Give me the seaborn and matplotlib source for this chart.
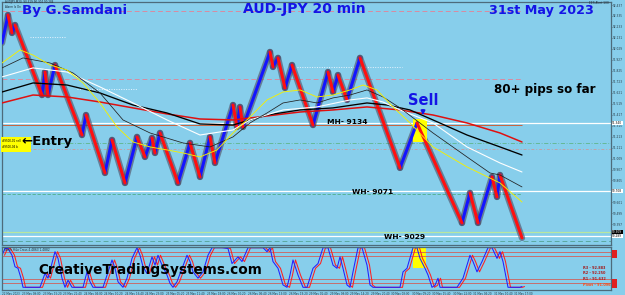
import numpy as np
import pandas as pd
import matplotlib
matplotlib.use("Agg")
import matplotlib.pyplot as plt
import matplotlib.transforms as mtransforms
from matplotlib.patches import Rectangle
import seaborn as sns

# ---------------- data ----------------
# Renko zig-zag pivots (bar position, price)
pivot_bar = [2, 8, 12, 15, 42, 45, 48, 55, 82, 86, 105, 112, 125, 137, 145, 152, 155, 160,
             178, 190, 200, 210, 215, 233, 237, 240, 243, 270, 273, 278, 285, 292, 313, 328,
             333, 338, 347, 360, 400, 417, 462, 470, 478, 492, 497, 500, 522]
pivot_price = [92.084, 92.344, 92.177, 92.251, 91.600, 91.814, 91.600, 91.879, 91.228, 91.414,
               90.875, 91.182, 90.782, 91.210, 91.024, 91.201, 91.061, 91.247, 90.782, 91.154,
               90.838, 91.210, 90.968, 91.507, 91.303, 91.489, 91.303, 92.000, 91.861, 91.945,
               91.666, 91.879, 91.321, 91.814, 91.628, 91.786, 91.554, 91.945, 90.922, 91.340,
               90.410, 90.689, 90.410, 90.838, 90.652, 90.856, 90.271]

# moving averages
ma_yellow_bar = [2, 20, 33, 50, 67, 83, 100, 117, 133, 150, 167, 183, 200, 217, 233, 250, 267, 283,
                 300, 317, 333, 350, 363, 377, 393, 410, 433, 467, 500, 522]
ma_yellow = [91.898, 92.019, 91.972, 91.879, 91.833, 91.712, 91.526, 91.303, 91.163, 91.117,
             91.089, 91.061, 91.024, 91.089, 91.247, 91.396, 91.554, 91.628, 91.647, 91.582,
             91.600, 91.647, 91.693, 91.647, 91.489, 91.340, 91.117, 90.931, 90.782, 90.605]
ma_thin_bar = [2, 23, 50, 73, 100, 123, 150, 183, 210, 233, 250, 267, 283, 300, 317, 333, 350, 367,
               383, 400, 433, 467, 490, 500, 522]
ma_thin = [91.852, 91.945, 91.898, 91.805, 91.619, 91.368, 91.247, 91.154, 91.117, 91.210, 91.340,
           91.433, 91.526, 91.554, 91.526, 91.573, 91.600, 91.647, 91.582, 91.480, 91.247, 91.024,
           90.875, 90.856, 90.745]
ma_white_bar = [2, 33, 67, 100, 133, 167, 200, 233, 250, 283, 317, 350, 367, 383, 400, 433, 467, 500, 522]
ma_white = [91.768, 91.852, 91.814, 91.675, 91.526, 91.368, 91.228, 91.275, 91.368, 91.461, 91.489,
            91.554, 91.573, 91.535, 91.461, 91.340, 91.117, 90.968, 90.884]
ma_black_bar = [2, 33, 67, 100, 133, 167, 200, 233, 267, 300, 333, 367, 387, 410, 433, 467, 500, 522]
ma_black = [91.628, 91.712, 91.693, 91.619, 91.507, 91.433, 91.331, 91.321, 91.414, 91.461, 91.480,
            91.526, 91.507, 91.461, 91.368, 91.228, 91.117, 91.042]
ma_red_bar = [2, 33, 67, 100, 133, 167, 200, 233, 267, 300, 333, 367, 400, 433, 467, 500, 522]
ma_red = [91.526, 91.600, 91.582, 91.535, 91.480, 91.424, 91.377, 91.368, 91.405, 91.442, 91.461,
          91.489, 91.461, 91.414, 91.340, 91.247, 91.163]

# horizontal levels
level_price = [92.382, 91.749, 91.340, 91.321, 91.154, 91.098, 90.708, 90.680, 90.326, 90.289, 90.243]
level_end = [522, 522, 611, 522, 611, 611, 611, 522, 611, 611, 611]
dotted_price = [92.140, 91.656, 91.861]
dotted_from = [30, 77, 297]
dotted_to = [65, 137, 402]

# stochastic oscillator
stoch_bar = [2, 5, 8, 12, 15, 18, 21, 23, 40, 45, 48, 55, 58, 62, 65, 68, 72, 83, 87, 90,
             93, 103, 112, 115, 118, 123, 127, 132, 137, 140, 143, 147, 152, 155, 158, 162, 167, 170, 173, 177,
             187, 190, 193, 198, 203, 208, 212, 222, 228, 232, 238, 242, 248, 263, 267, 270, 273, 278, 283, 287,
             290, 293, 298, 303, 307, 313, 318, 323, 328, 333, 337, 340, 343, 347, 350, 353, 358, 362, 367, 370,
             373, 400, 403, 407, 413, 417, 420, 425, 428, 432, 435, 438, 440, 457, 463, 470, 473, 477, 482, 488,
             492, 497, 500, 503, 508, 520, 522]
stoch_k = [81, 98, 98, 81, 52, 48, 23, 0, 0, 35, 23, 90, 73, 23, 0, 18, 0, 0, 39, 14,
           0, 0, 69, 48, 14, 0, 23, 73, 100, 81, 52, 35, 77, 56, 81, 56, 31, 10, 0, 14,
           81, 65, 39, 23, 39, 81, 100, 100, 98, 60, 77, 65, 100, 100, 90, 100, 65, 48, 6, 0,
           31, 69, 31, 0, 0, 48, 60, 100, 100, 56, 48, 77, 48, 6, 0, 39, 100, 100, 56, 6,
           0, 0, 39, 48, 100, 100, 73, 48, 31, 0, 5, 23, 0, 0, 23, 81, 65, 39, 65, 100,
           100, 73, 90, 65, 0, 0, 2]
stoch_levels = [90, 80, 20, 10]

price_ticks = [92.437, 92.335, 92.233, 92.131, 92.029, 91.927, 91.825, 91.723, 91.621, 91.519,
               91.417, 91.315, 91.213, 91.111, 91.009, 90.907, 90.805, 90.703, 90.601, 90.499,
               90.397, 90.295]
date_pos = [2, 22, 43, 63, 84, 104, 125, 145, 166, 186, 207, 227, 248, 268, 289, 309, 330, 350,
            371, 391, 412, 432, 453, 473, 494, 514]
date_lab = ["22 May 2023", "23 May 09:00", "23 May 15:20", "23 May 21:40", "24 May 04:00",
            "24 May 10:20", "24 May 16:40", "24 May 23:00", "25 May 05:20", "25 May 11:40",
            "25 May 18:00", "26 May 00:20", "26 May 06:40", "26 May 13:00", "26 May 19:20",
            "29 May 01:40", "29 May 08:00", "29 May 14:20", "29 May 20:40", "30 May 03:00",
            "30 May 09:20", "30 May 15:40", "30 May 22:00", "31 May 04:20", "31 May 10:40",
            "31 May 17:00"]
pivot_names = ["R3 - 92.883", "R2 - 92.250", "R1 - 91.632", "Pivot - 91.096"]

# ---------------- figure ----------------
bg = "#87CEEB"
sns.set_style("white")
plt.rcParams["font.family"] = ["DejaVu Sans"]

W, H = 625, 295
fig = plt.figure(figsize=(6.25, 2.95), dpi=100, facecolor=bg)


def fx(px):
    return px / W


def fy(py):
    return 1 - py / H


ax = fig.add_axes([fx(2), fy(245), fx(611) - fx(2), fy(2) - fy(245)])
ax2 = fig.add_axes([fx(2), fy(290), fx(611) - fx(2), fy(247) - fy(290)], sharex=ax)
for a in (ax, ax2):
    a.set_facecolor(bg)
    for s in a.spines.values():
        s.set_color("#4d6b7b")
        s.set_linewidth(0.9)
ax.set_xlim(2, 611)
ax.set_ylim(90.205, 92.465)
ax2.set_ylim(-6.8, 101.8)

# horizontal levels
lv_colors = ["#d98aa0", "#d98aa0", "white", "#c8623c", "#5fb58a", "#c0a0a8", "white", "#4fb08a",
             "#b9e6a0", "white", "#5aa8a0"]
lv_styles = [(0, (5, 3)), (0, (5, 3)), "-", "-", (0, (5, 2, 1, 2)), (0, (3, 2, 1, 2)), "-", (0, (4, 2)),
             "-", "-", (0, (5, 3))]
lv_widths = [0.7, 0.7, 0.9, 0.7, 0.6, 0.7, 0.9, 0.6, 0.9, 0.9, 0.7]
for p, e, c, ls, lw in zip(level_price, level_end, lv_colors, lv_styles, lv_widths):
    ax.hlines(p, 2, e, colors=c, linestyles=ls, linewidth=lw, zorder=1)
for p, a0, a1 in zip(dotted_price, dotted_from, dotted_to):
    ax.hlines(p, a0, a1, colors="#e8f4ff", linestyles=(0, (1, 1.5)), linewidth=0.7, zorder=1)

# Renko path
rows = []
for i in range(len(pivot_bar) - 1):
    d = "up" if pivot_price[i + 1] > pivot_price[i] else "down"
    rows.append(dict(seg=i, bar=pivot_bar[i], price=pivot_price[i], dir=d))
    rows.append(dict(seg=i, bar=pivot_bar[i + 1], price=pivot_price[i + 1], dir=d))
renko = pd.DataFrame(rows)
sns.lineplot(data=renko, x="bar", y="price", units="seg", estimator=None, sort=False,
             color="#4a3e55", lw=4.6, alpha=0.55, ax=ax, legend=False, zorder=2)
sns.lineplot(data=renko, x="bar", y="price", units="seg", hue="dir", estimator=None, sort=False,
             palette={"up": "#1414ff", "down": "#ff1010"}, lw=2.2, ax=ax, legend=False, zorder=3)

# yellow box at sell
ax.add_patch(Rectangle((413, 91.163), 14, 0.214, facecolor="#ffff00", edgecolor="none", zorder=2.5))

# moving averages
for xs, ys, c, lw in [(ma_red_bar, ma_red, "#e01010", 1.1),
                      (ma_black_bar, ma_black, "black", 0.95),
                      (ma_white_bar, ma_white, "white", 0.8),
                      (ma_thin_bar, ma_thin, "#202020", 0.55),
                      (ma_yellow_bar, ma_yellow, "#f5f000", 0.65)]:
    sns.lineplot(x=xs, y=ys, color=c, lw=lw, ax=ax, legend=False, estimator=None, sort=False, zorder=4)

# axes ticks
ax.yaxis.tick_right()
ax.set_yticks(price_ticks)
ax.set_yticklabels([f"{t:.3f}" for t in price_ticks])
ax.tick_params(axis="y", labelsize=2.1, length=1.0, width=0.4, pad=0.4, colors="#2a3a44")
ax.tick_params(axis="x", length=0, labelbottom=False)
ax.set_xlabel("")
ax.set_ylabel("")

yt = ax.get_yaxis_transform()
for p, txt, fc, tc in [(91.340, "91.340", "white", "black"), (90.708, "90.708", "white", "black"),
                       (90.326, "90.309", "black", "white"), (90.289, "90.289", "white", "black")]:
    ax.text(1.002, p, txt, transform=yt, fontsize=2.1, color=tc, va="center", ha="left",
            bbox=dict(fc=fc, ec="none", pad=0.3), clip_on=False)

# stochastic
for lv in stoch_levels:
    ax2.axhline(lv, color="#d0605a", lw=0.6, zorder=1)
sk = pd.DataFrame({"bar": stoch_bar, "k": stoch_k})
sns.lineplot(data=sk, x="bar", y="k", color="#ff2020", lw=0.75, ax=ax2, legend=False, estimator=None, sort=False)
ax2.lines[-1].set_transform(mtransforms.offset_copy(ax2.transData, fig=fig, x=2.5, y=0, units="dots"))
sns.lineplot(data=sk, x="bar", y="k", color="#2020ff", lw=0.75, ax=ax2, legend=False, estimator=None, sort=False)
ax2.add_patch(Rectangle((413, 49), 13, 50, facecolor="#ffff00", edgecolor="none", zorder=0.5))
ax2.set_yticks([])
ax2.set_xticks(date_pos)
ax2.set_xticklabels(date_lab, fontsize=2.0, ha="left", color="#2a3a44")
ax2.tick_params(axis="x", length=1.0, pad=0.4, width=0.4)
ax2.set_xlabel("")
ax2.set_ylabel("")
ax2.set_xlim(2, 611)

# pivot legend in lower panel
for py, t, c in zip([268, 273.5, 279, 284.5], pivot_names, ["#a01818", "#b01818", "#b01818", "#ff4a10"]):
    fig.text(fx(583), fy(py), t, fontsize=2.5, color=c, fontweight="bold", va="center", ha="left")
for py0, py1 in [(250, 258), (279, 288)]:
    fig.patches.append(Rectangle((fx(612), fy(py1)), fx(5), fy(py0) - fy(py1), transform=fig.transFigure,
                                 facecolor="#e02020", edgecolor="none"))

# small info texts
fig.text(fx(5), fy(2.4), "AUDJPY,M20  90.319 90.304 90.284", fontsize=2.0, color="#1a2a34", va="center")
fig.text(fx(5), fy(6.6), "Alarm Is On", fontsize=2.0, color="#1a2a34", va="center")
fig.text(fx(589), fy(3.5), "EES Alert 1(0)", fontsize=2.1, color="#1a2a34", va="center")
fig.text(fx(4), fy(250), "Stoch HiLo Cross 4.4863 1.4882", fontsize=2.1, color="#1a2a34", va="center")

# entry box
fig.patches.append(Rectangle((fx(1), fy(152)), fx(30), fy(137) - fy(152), transform=fig.transFigure,
                             facecolor="#ffff00", edgecolor="none", zorder=5))
fig.text(fx(2.5), fy(141.5), "#9500-01 sell", fontsize=2.0, color="black", va="center", zorder=6)
fig.text(fx(2.5), fy(147.5), "#9500-04 b", fontsize=2.0, color="black", va="center", zorder=6)

# titles and annotations
blue = "#1414e6"
fig.text(fx(22), fy(13.8), "By G.Samdani", color=blue, fontsize=9.6, fontweight="bold", va="baseline")
fig.text(fx(243), fy(13.5), "AUD-JPY 20 min", color=blue, fontsize=10, fontweight="bold", va="baseline")
fig.text(fx(489), fy(14), "31st May 2023", color=blue, fontsize=9.2, fontweight="bold", va="baseline")
fig.text(fx(494), fy(92.5), "80+ pips so far", color="black", fontsize=8.6, fontweight="bold", va="baseline")
fig.text(fx(408), fy(105), "Sell", color=blue, fontsize=10.5, fontweight="bold", va="baseline")
fig.text(fx(327), fy(124.5), "MH- 9134", color="black", fontsize=5.4, fontweight="bold", va="baseline")
fig.text(fx(352), fy(193.5), "WH- 9071", color="black", fontsize=5.4, fontweight="bold", va="baseline")
fig.text(fx(384), fy(239), "WH- 9029", color="black", fontsize=5.4, fontweight="bold", va="baseline")
fig.text(fx(21), fy(145.5), "\u2190Entry", color="black", fontsize=9.5, fontweight="bold", va="baseline", zorder=7)
fig.text(fx(38), fy(274), "CreativeTradingSystems.com", color="black", fontsize=9.8, fontweight="bold",
         va="baseline", zorder=7)
fig.patches.append(matplotlib.patches.FancyArrowPatch((fx(423), fy(107)), (fx(423), fy(118)),
                                                      transform=fig.transFigure, arrowstyle="-|>",
                                                      mutation_scale=6, color=blue, lw=1.2))

fig.savefig("out.png", dpi=100, facecolor=bg)
